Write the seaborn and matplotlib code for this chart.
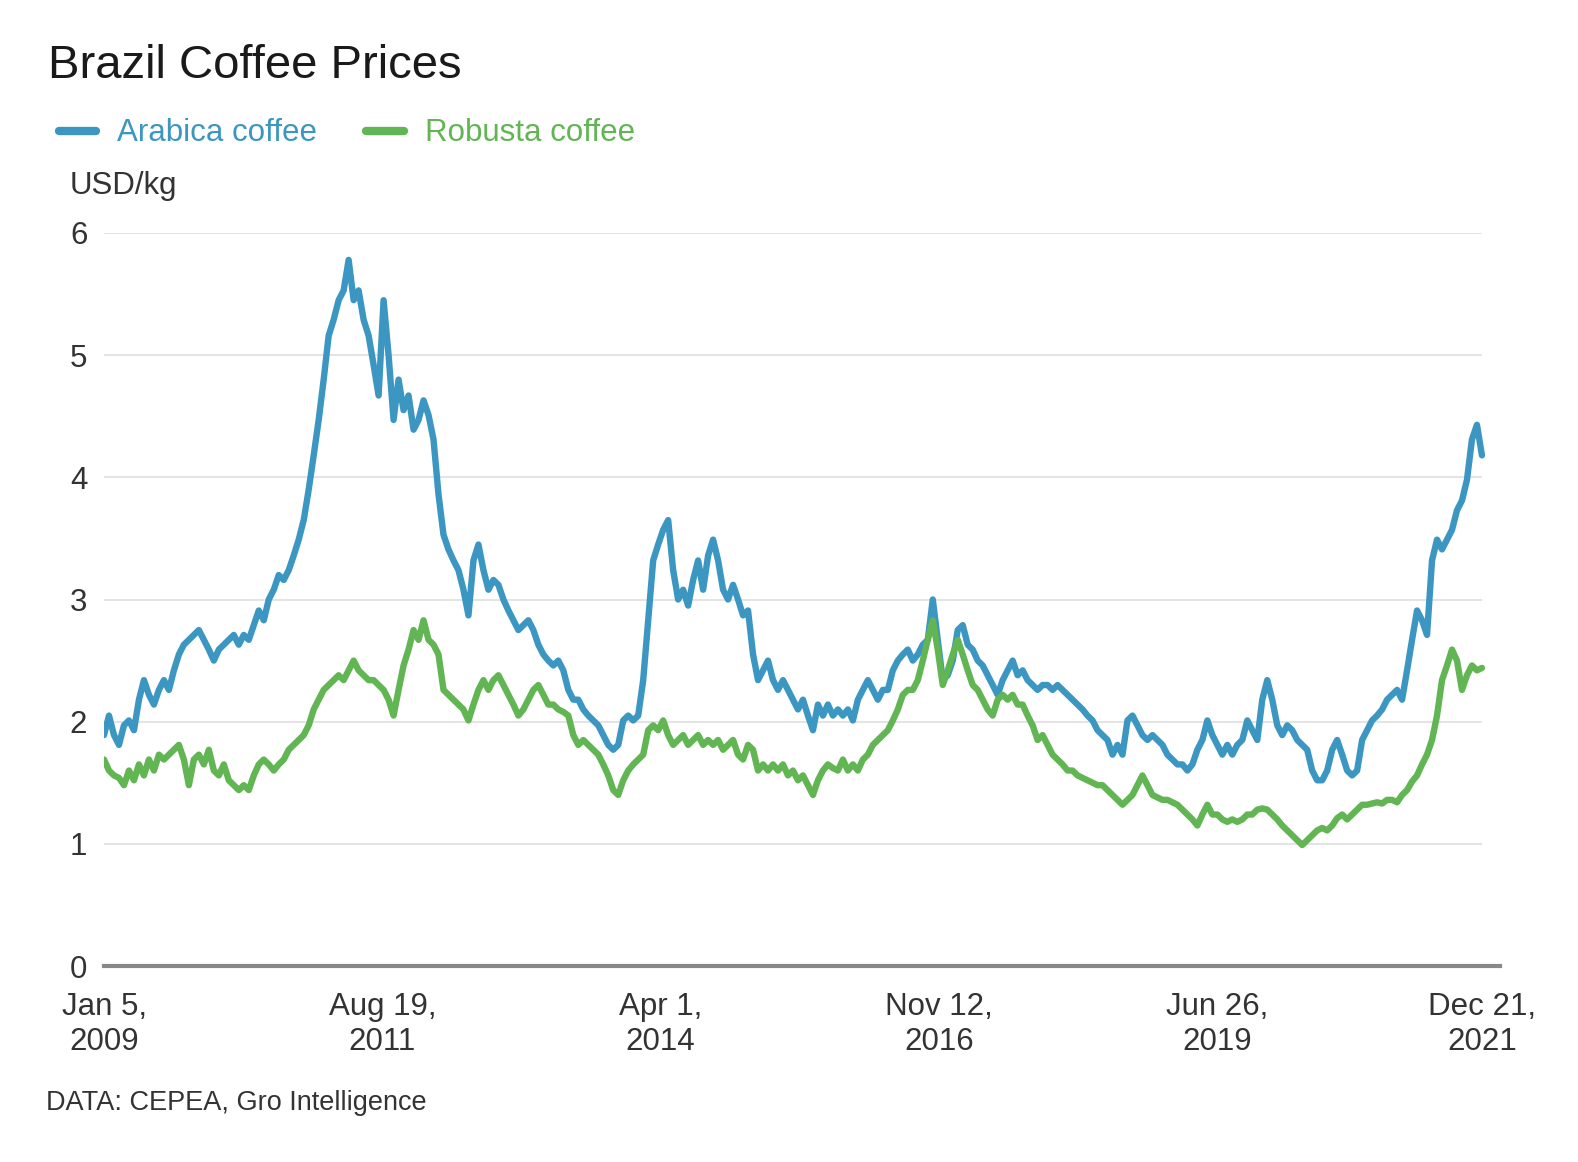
import numpy as np
import pandas as pd
import matplotlib
matplotlib.use("Agg")
import matplotlib.pyplot as plt
from matplotlib.lines import Line2D
import seaborn as sns

# values, evenly spaced from Jan 5 2009 to Dec 21 2021
arabica = [
    1.89, 2.05, 1.89, 1.81, 1.97, 2.01, 1.93, 2.18, 2.34, 2.22,
    2.14, 2.26, 2.34, 2.26, 2.42, 2.55, 2.63, 2.67, 2.71, 2.75,
    2.67, 2.59, 2.50, 2.59, 2.63, 2.67, 2.71, 2.63, 2.71, 2.67,
    2.79, 2.91, 2.83, 3.00, 3.08, 3.20, 3.16, 3.24, 3.36, 3.49,
    3.65, 3.90, 4.18, 4.47, 4.80, 5.16, 5.29, 5.45, 5.53, 5.78,
    5.45, 5.53, 5.29, 5.16, 4.92, 4.67, 5.45, 5.00, 4.47, 4.80,
    4.55, 4.67, 4.39, 4.47, 4.63, 4.51, 4.31, 3.86, 3.53, 3.41,
    3.32, 3.24, 3.08, 2.87, 3.32, 3.45, 3.24, 3.08, 3.16, 3.12,
    3.00, 2.91, 2.83, 2.75, 2.79, 2.83, 2.75, 2.63, 2.55, 2.50,
    2.46, 2.50, 2.42, 2.26, 2.18, 2.18, 2.10, 2.05, 2.01, 1.97,
    1.89, 1.81, 1.77, 1.81, 2.01, 2.05, 2.01, 2.05, 2.34, 2.83,
    3.32, 3.45, 3.57, 3.65, 3.24, 3.00, 3.08, 2.95, 3.16, 3.32,
    3.08, 3.36, 3.49, 3.32, 3.08, 3.00, 3.12, 3.00, 2.87, 2.91,
    2.55, 2.34, 2.42, 2.50, 2.34, 2.26, 2.34, 2.26, 2.18, 2.10,
    2.18, 2.05, 1.93, 2.14, 2.05, 2.14, 2.05, 2.10, 2.05, 2.10,
    2.01, 2.18, 2.26, 2.34, 2.26, 2.18, 2.26, 2.26, 2.42, 2.50,
    2.55, 2.59, 2.50, 2.55, 2.63, 2.67, 3.00, 2.67, 2.34, 2.38,
    2.50, 2.75, 2.79, 2.63, 2.59, 2.50, 2.46, 2.38, 2.30, 2.22,
    2.34, 2.42, 2.50, 2.38, 2.42, 2.34, 2.30, 2.26, 2.30, 2.30,
    2.26, 2.30, 2.26, 2.22, 2.18, 2.14, 2.10, 2.05, 2.01, 1.93,
    1.89, 1.85, 1.73, 1.81, 1.73, 2.01, 2.05, 1.97, 1.89, 1.85,
    1.89, 1.85, 1.81, 1.73, 1.69, 1.65, 1.65, 1.60, 1.65, 1.77,
    1.85, 2.01, 1.89, 1.81, 1.73, 1.81, 1.73, 1.81, 1.85, 2.01,
    1.93, 1.85, 2.18, 2.34, 2.18, 1.97, 1.89, 1.97, 1.93, 1.85,
    1.81, 1.77, 1.60, 1.52, 1.52, 1.60, 1.77, 1.85, 1.73, 1.60,
    1.56, 1.60, 1.85, 1.93, 2.01, 2.05, 2.10, 2.18, 2.22, 2.26,
    2.18, 2.42, 2.67, 2.91, 2.83, 2.71, 3.32, 3.49, 3.41, 3.49,
    3.57, 3.73, 3.81, 3.98, 4.31, 4.43, 4.18,
]

robusta = [
    1.69, 1.60, 1.56, 1.54, 1.48, 1.60, 1.52, 1.65, 1.56, 1.69,
    1.60, 1.73, 1.69, 1.73, 1.77, 1.81, 1.69, 1.48, 1.69, 1.73,
    1.65, 1.77, 1.60, 1.56, 1.65, 1.52, 1.48, 1.44, 1.48, 1.44,
    1.56, 1.65, 1.69, 1.65, 1.60, 1.65, 1.69, 1.77, 1.81, 1.85,
    1.89, 1.97, 2.10, 2.18, 2.26, 2.30, 2.34, 2.38, 2.34, 2.42,
    2.50, 2.42, 2.38, 2.34, 2.34, 2.30, 2.26, 2.18, 2.05, 2.26,
    2.46, 2.59, 2.75, 2.67, 2.83, 2.67, 2.63, 2.55, 2.26, 2.22,
    2.18, 2.14, 2.10, 2.01, 2.14, 2.26, 2.34, 2.26, 2.34, 2.38,
    2.30, 2.22, 2.14, 2.05, 2.10, 2.18, 2.26, 2.30, 2.22, 2.14,
    2.14, 2.10, 2.08, 2.05, 1.89, 1.81, 1.85, 1.81, 1.77, 1.73,
    1.65, 1.56, 1.44, 1.40, 1.52, 1.60, 1.65, 1.69, 1.73, 1.93,
    1.97, 1.93, 2.01, 1.89, 1.81, 1.85, 1.89, 1.81, 1.85, 1.89,
    1.81, 1.85, 1.81, 1.85, 1.77, 1.81, 1.85, 1.73, 1.69, 1.81,
    1.77, 1.60, 1.65, 1.60, 1.65, 1.60, 1.65, 1.56, 1.60, 1.52,
    1.56, 1.48, 1.40, 1.52, 1.60, 1.65, 1.62, 1.60, 1.69, 1.60,
    1.65, 1.60, 1.69, 1.73, 1.81, 1.85, 1.89, 1.93, 2.01, 2.10,
    2.22, 2.26, 2.26, 2.34, 2.50, 2.67, 2.83, 2.59, 2.30, 2.42,
    2.55, 2.67, 2.55, 2.42, 2.30, 2.26, 2.18, 2.10, 2.05, 2.18,
    2.22, 2.18, 2.22, 2.14, 2.14, 2.05, 1.97, 1.85, 1.89, 1.81,
    1.73, 1.69, 1.65, 1.60, 1.60, 1.56, 1.54, 1.52, 1.50, 1.48,
    1.48, 1.44, 1.40, 1.36, 1.32, 1.36, 1.40, 1.48, 1.56, 1.48,
    1.40, 1.38, 1.36, 1.36, 1.34, 1.32, 1.28, 1.24, 1.20, 1.15,
    1.24, 1.32, 1.24, 1.24, 1.20, 1.18, 1.20, 1.18, 1.20, 1.24,
    1.24, 1.28, 1.29, 1.28, 1.24, 1.20, 1.15, 1.11, 1.07, 1.03,
    0.99, 1.03, 1.07, 1.11, 1.13, 1.11, 1.15, 1.21, 1.24, 1.20,
    1.24, 1.28, 1.32, 1.32, 1.33, 1.34, 1.33, 1.36, 1.36, 1.34,
    1.40, 1.44, 1.51, 1.56, 1.65, 1.73, 1.85, 2.05, 2.34, 2.46,
    2.59, 2.50, 2.26, 2.38, 2.46, 2.42, 2.44,
]

series_names = ["Arabica coffee", "Robusta coffee"]
tick_dates = ["2009-01-05", "2011-08-19", "2014-04-01", "2016-11-12", "2019-06-26", "2021-12-21"]
tick_labels = ["Jan 5,\n2009", "Aug 19,\n2011", "Apr 1,\n2014", "Nov 12,\n2016", "Jun 26,\n2019", "Dec 21,\n2021"]
y_ticks = [0, 1, 2, 3, 4, 5, 6]

BLUE = "#3b97c2"
GREEN = "#62b553"
TEXT = "#333333"

dates = pd.date_range("2009-01-05", "2021-12-21", periods=len(arabica))
df = pd.concat([
    pd.DataFrame({"date": dates, "price": arabica, "series": series_names[0]}),
    pd.DataFrame({"date": dates, "price": robusta, "series": series_names[1]}),
])

sns.set_style("white")
plt.rcParams["font.family"] = ["Liberation Sans", "DejaVu Sans"]

W, H = 1578, 1162
fig = plt.figure(figsize=(W / 100, H / 100), dpi=100)
ax = fig.add_axes([104 / W, 1 - 966 / H, (1500 - 104) / W, (966 - 233) / H])

start = pd.Timestamp("2009-01-05")
end = pd.Timestamp("2021-12-21")

# light horizontal grid
ax.hlines(y_ticks[1:], start, end, color="#e2e2e2", lw=1.3, zorder=0)

sns.lineplot(data=df, x="date", y="price", hue="series", hue_order=series_names,
             palette=[BLUE, GREEN], linewidth=4.6, legend=False, ax=ax)

ax.set_xlim(start, start + pd.Timedelta(days=4795))
ax.set_ylim(0, 6)
ax.set_yticks(y_ticks)
ax.set_yticklabels([str(v) for v in y_ticks])
ax.set_xticks(pd.to_datetime(tick_dates))
ax.set_xticklabels(tick_labels, linespacing=1.22)
ax.set_xlabel("")
ax.set_ylabel("")

for s in ["top", "right", "left"]:
    ax.spines[s].set_visible(False)
ax.spines["bottom"].set_color("#888888")
ax.spines["bottom"].set_linewidth(3)
ax.tick_params(axis="y", length=0, pad=12, labelsize=22.5, labelcolor=TEXT)
ax.tick_params(axis="x", length=10, width=1.5, color="#888888", pad=9,
               labelsize=22.5, labelcolor=TEXT)

# title, legend, unit and source
fig.text(48 / W, 1 - 66 / H, "Brazil Coffee Prices", fontsize=34, color="#1a1a1a", va="center")
for x0, x1, xt, col, name in [(59, 96, 117, BLUE, series_names[0]),
                              (366, 404, 425, GREEN, series_names[1])]:
    fig.add_artist(Line2D([x0 / W, x1 / W], [1 - 131 / H, 1 - 131 / H], color=col,
                          lw=6, solid_capstyle="round", transform=fig.transFigure))
    fig.text(xt / W, 1 - 133 / H, name, fontsize=22.5, color=col, va="center")
fig.text(70 / W, 1 - 186 / H, "USD/kg", fontsize=22.5, color=TEXT, va="center")
fig.text(46 / W, 1 - 1103 / H, "DATA: CEPEA, Gro Intelligence", fontsize=19.5, color=TEXT, va="center")

fig.savefig("out.png", dpi=100, facecolor="white")
